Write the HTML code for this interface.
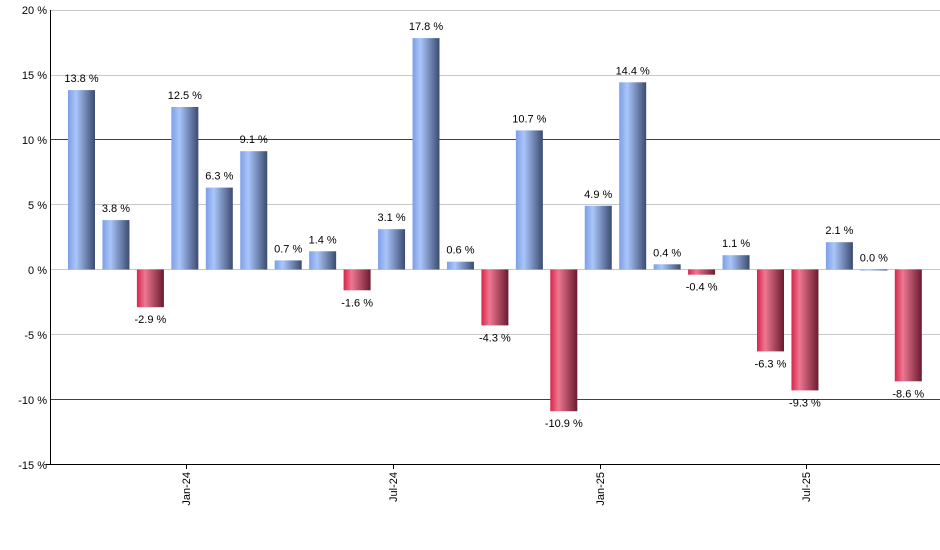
<!DOCTYPE html>
<html><head><style>body{margin:0;background:#fff}svg{display:block}text{font-family:"Liberation Sans",Arial,sans-serif;font-size:11px;fill:#000}</style></head><body>
<svg width="940" height="550" xmlns="http://www.w3.org/2000/svg">
<defs>
<linearGradient id="b" x1="0" x2="1" y1="0" y2="0"><stop offset="0" stop-color="#7d9fe6"/><stop offset="0.3" stop-color="#a9c5fa"/><stop offset="1" stop-color="#3b4b70"/></linearGradient>
<linearGradient id="r" x1="0" x2="1" y1="0" y2="0"><stop offset="0" stop-color="#d8244c"/><stop offset="0.3" stop-color="#ec7890"/><stop offset="1" stop-color="#6a1a30"/></linearGradient>
</defs>
<g stroke="#c8c8c8" stroke-width="1">
<line x1="50" x2="940" y1="10.5" y2="10.5"/><line x1="50" x2="940" y1="75.5" y2="75.5"/>
<line x1="50" x2="940" y1="204.5" y2="204.5"/><line x1="50" x2="940" y1="269.5" y2="269.5"/><line x1="50" x2="940" y1="334.5" y2="334.5"/>
</g>
<g stroke="#1a5a1a" stroke-width="1"><line x1="50" x2="940" y1="139.5" y2="139.5"/><line x1="50" x2="940" y1="399.5" y2="399.5"/></g>
<g id="bars"></g>
<line x1="50.5" x2="50.5" y1="10" y2="465" stroke="#000"/>
<line x1="46" x2="940" y1="464.5" y2="464.5" stroke="#000"/>
<g text-anchor="end">
<text x="47" y="14">20 %</text><text x="47" y="79">15 %</text><text x="47" y="144">10 %</text><text x="47" y="209">5 %</text><text x="47" y="274">0 %</text><text x="47" y="339">-5 %</text><text x="47" y="404">-10 %</text><text x="47" y="469">-15 %</text>
</g>
<g stroke="#000"><line x1="186.5" x2="186.5" y1="464" y2="469"/><line x1="393.5" x2="393.5" y1="464" y2="469"/><line x1="600.5" x2="600.5" y1="464" y2="469"/><line x1="806.5" x2="806.5" y1="464" y2="469"/></g>
<g text-anchor="end">
<text transform="translate(190,472) rotate(-90)">Jan-24</text>
<text transform="translate(397,472) rotate(-90)">Jul-24</text>
<text transform="translate(604,472) rotate(-90)">Jan-25</text>
<text transform="translate(810,472) rotate(-90)">Jul-25</text>
</g>
<g id="lab" text-anchor="middle"></g>
</svg>
<script>
var v=[13.8,3.8,-2.9,12.5,6.3,9.1,0.7,1.4,-1.6,3.1,17.8,0.6,-4.3,10.7,-10.9,4.9,14.4,0.4,-0.4,1.1,-6.3,-9.3,2.1,0.0,-8.6];
var g=document.getElementById('bars'),l=document.getElementById('lab'),ns='http://www.w3.org/2000/svg';
v.forEach(function(d,i){var c=81.5+i*34.45,x=c-13.5,z=269.5,h=Math.abs(d)*13,y=d>=0?z-h:z;
var r=document.createElementNS(ns,'rect');r.setAttribute('x',x);r.setAttribute('y',y);r.setAttribute('width',27);r.setAttribute('height',Math.max(h,1));r.setAttribute('fill',d>=0?'url(#b)':'url(#r)');g.appendChild(r);
var t=document.createElementNS(ns,'text');t.setAttribute('x',c);t.setAttribute('y',d>=0?y-8:y+h+16);t.textContent=d.toFixed(1)+' %';l.appendChild(t);});
</script>
</body></html>
